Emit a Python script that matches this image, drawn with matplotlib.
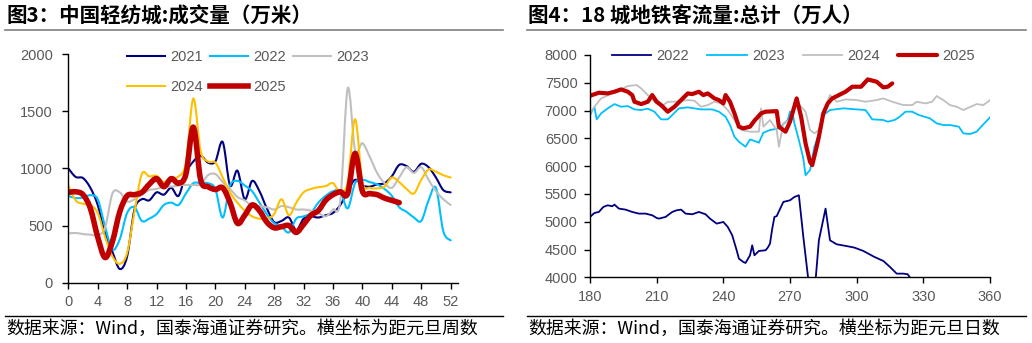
import numpy as np
import matplotlib.pyplot as plt
from matplotlib.lines import Line2D
from matplotlib.path import Path
from matplotlib.patches import PathPatch

plt.rcParams['font.family'] = ['Liberation Sans', 'DejaVu Sans']

CJK = ['Noto Sans CJK SC', 'DejaVu Sans']
TICK_COLOR = '#595959'

# ---- left panel: weekly turnover of the textile city (10k metres) ----
weeks = np.arange(53)
weeks_2025 = np.arange(46)
tx_2021 = [1000, 925, 915, 830, 680, 430, 270, 120, 230, 640, 730, 720, 790, 770,
           830, 760, 960, 1060, 1110, 1050, 1060, 1230, 850, 980, 730, 890, 800,
           650, 530, 540, 570, 460, 560, 580, 570, 590, 610, 680, 800, 900, 850,
           840, 860, 870, 930, 1030, 1020, 970, 1040, 1010, 920, 810, 790]
tx_2022 = [760, 740, 745, 765, 730, 490, 290, 380, 610, 660, 540, 560, 600, 680,
           700, 680, 780, 870, 870, 870, 820, 570, 850, 890, 850, 800, 700, 600,
           520, 490, 440, 560, 580, 610, 700, 760, 800, 800, 650, 870, 900, 880,
           860, 820, 760, 660, 620, 570, 540, 720, 830, 450, 370]
tx_2023 = [430, 435, 425, 420, 415, 480, 780, 790, 710, 730, 770, 810, 820, 840,
           840, 850, 855, 855, 860, 940, 950, 880, 820, 750, 720, 670, 670, 660,
           640, 670, 660, 640, 640, 630, 610, 580, 640, 720, 1700, 1160, 1220,
           1100, 960, 870, 830, 920, 1010, 960, 1010, 900, 800, 730, 680]
tx_2024 = [850, 720, 690, 680, 610, 400, 230, 165, 260, 620, 950, 930, 935, 880,
           915, 930, 1050, 1610, 1150, 1060, 1050, 920, 790, 700, 630, 580, 560,
           560, 600, 730, 590, 700, 790, 820, 835, 845, 870, 790, 880, 1430, 880,
           830, 825, 840, 920, 880, 820, 780, 900, 990, 970, 940, 920]
tx_2025 = [790, 795, 770, 650, 400, 220, 360, 620, 760, 770, 790, 860, 910, 840,
           910, 870, 950, 1360, 900, 840, 815, 830, 700, 520, 590, 680, 630, 530,
           480, 490, 500, 440, 510, 590, 630, 720, 770, 795, 780, 1130, 800, 780,
           770, 740, 720, 700]

# ---- right panel: metro ridership of 18 cities (10k trips) ----
day_2022 = [180, 182, 184, 186, 188, 190, 191, 193, 196, 199, 202, 205, 208, 210,
            211, 214, 217, 219, 221, 223, 226, 229, 232, 234, 237, 240, 242, 244,
            246, 247, 249, 250, 252, 253, 254, 256, 259, 260, 261, 262, 263, 264,
            267, 270, 272, 274, 276, 279, 281, 283, 286, 288, 291, 296, 299, 303,
            308, 312, 315, 318, 321, 323, 324]
val_2022 = [5086, 5158, 5176, 5266, 5296, 5278, 5308, 5236, 5218, 5176, 5146, 5146,
            5116, 5068, 5056, 5086, 5176, 5206, 5218, 5146, 5134, 5176, 5134, 5056,
            4966, 4996, 4906, 4756, 4486, 4336, 4276, 4258, 4396, 4576, 4396, 4474,
            4486, 4534, 4606, 4876, 5086, 5100, 5356, 5386, 5446, 5476, 4726, 3700,
            3700, 4666, 5236, 4666, 4594, 4558, 4534, 4474, 4366, 4294, 4186, 4066,
            4066, 4054, 3994]
day_2023 = [180, 181, 182, 183, 185, 188, 191, 194, 197, 200, 203, 206, 209, 212,
            215, 217, 220, 224, 230, 235, 238, 241, 243, 245, 247, 250, 252, 255,
            256, 258, 261, 265, 269, 270, 271, 272, 274, 276, 277, 279, 281, 283,
            285, 288, 294, 300, 304, 307, 312, 314, 317, 319, 322, 325, 328, 333,
            336, 339, 342, 346, 348, 351, 354, 356, 360]
val_2023 = [6920, 7000, 7060, 6842, 6950, 7040, 7117, 7069, 7081, 7021, 7010, 7034,
            6980, 6842, 6842, 6920, 7040, 7058, 7021, 7021, 6980, 6890, 6740, 6529,
            6439, 6349, 6481, 6439, 6421, 6601, 6650, 6680, 6830, 6980, 6980, 6770,
            6469, 6138, 5838, 5928, 6349, 6590, 6920, 7010, 7040, 7021, 7010, 6842,
            6830, 6800, 6830, 6878, 6980, 6980, 6920, 6860, 6770, 6740, 6740, 6710,
            6590, 6578, 6620, 6710, 6878]
day_2024 = [180, 182, 185, 190, 194, 197, 201, 203, 206, 209, 212, 215, 218, 224,
            227, 230, 233, 236, 239, 242, 245, 248, 252, 255, 256, 257, 258, 261,
            264, 265, 267, 270, 271, 273, 277, 279, 281, 283, 285, 288, 291, 295,
            300, 304, 309, 312, 316, 321, 325, 327, 331, 334, 336, 339, 342, 345,
            348, 352, 354, 357, 360]
val_2024 = [6950, 7069, 7219, 7309, 7381, 7441, 7459, 7399, 7279, 7159, 7069, 7159,
            7159, 7189, 7177, 7069, 7099, 7159, 7129, 7010, 6830, 6650, 6620, 6620,
            6620, 7040, 6710, 6830, 6650, 6349, 6770, 6830, 6950, 7159, 6980, 6650,
            6590, 6650, 6950, 7279, 7159, 7201, 7189, 7159, 7189, 7219, 7159, 7099,
            7099, 7159, 7129, 7159, 7261, 7189, 7099, 7069, 7010, 7081, 7117, 7099,
            7189]
day_2025 = [180, 184, 188, 191, 194, 197, 199, 200, 203, 206, 208, 210, 212, 215,
            218, 221, 224, 226, 229, 231, 233, 236, 238, 240, 241, 243, 245, 247,
            249, 252, 254, 257, 259, 264, 265, 268, 270, 273, 275, 277, 279, 280,
            282, 283, 285, 287, 289, 292, 295, 298, 302, 305, 309, 312, 314, 316]
val_2025 = [7267, 7321, 7309, 7339, 7381, 7339, 7279, 7159, 7117, 7159, 7279, 7159,
            7099, 6980, 7069, 7189, 7309, 7297, 7339, 7279, 7309, 7219, 7189, 7129,
            7279, 7159, 6950, 6710, 6680, 6710, 6818, 6950, 6980, 6990, 6710, 6620,
            6800, 7219, 6890, 6409, 6078, 6018, 6349, 6529, 6950, 7129, 7219, 7279,
            7339, 7429, 7429, 7561, 7519, 7417, 7429, 7489]

C_NAVY = '#000080'
C_SKY = '#00BFFF'
C_GRAY = '#BFBFBF'
C_GOLD = '#FFC000'
C_RED = '#C00000'

W, H = 1032, 343
fig = plt.figure(figsize=(W / 100, H / 100), dpi=100)


def fx(px):
    return px / W


def fy(py):
    return 1 - py / H


def smooth_line(ax, x, y, color, lw, label):
    """Draw a series as a Catmull-Rom style bezier curve through its points."""
    p = np.column_stack([x, y]).astype(float)
    ext = np.vstack([p[0], p, p[-1]])
    verts = [p[0]]
    codes = [Path.MOVETO]
    for i in range(1, len(ext) - 2):
        p0, p1, p2, p3 = ext[i - 1], ext[i], ext[i + 1], ext[i + 2]
        verts += [p1 + (p2 - p0) / 6, p2 - (p3 - p1) / 6, p2]
        codes += [Path.CURVE4] * 3
    ax.add_patch(PathPatch(Path(verts, codes), fill=False, edgecolor=color,
                           lw=lw, joinstyle='round', capstyle='round'))
    return Line2D([], [], color=color, lw=lw, label=label)


def style_axes(ax, ypad):
    for side in ('top', 'right'):
        ax.spines[side].set_visible(False)
    for side in ('left', 'bottom'):
        ax.spines[side].set_color('black')
        ax.spines[side].set_linewidth(1.0)
    ax.tick_params(axis='both', direction='out', length=4, width=1,
                   colors='black', labelcolor=TICK_COLOR, labelsize=10.5)
    ax.tick_params(axis='y', pad=ypad)
    ax.tick_params(axis='x', pad=5)
    ax.set_facecolor('none')


# left panel
ax1 = fig.add_axes([fx(68.3), fy(282.7), fx(458 - 68.3), (282.7 - 54) / H])
h21 = smooth_line(ax1, weeks, tx_2021, C_NAVY, 1.5, '2021')
h22 = smooth_line(ax1, weeks, tx_2022, C_SKY, 1.5, '2022')
h23 = smooth_line(ax1, weeks, tx_2023, C_GRAY, 1.5, '2023')
h24 = smooth_line(ax1, weeks, tx_2024, C_GOLD, 1.5, '2024')
h25 = smooth_line(ax1, weeks_2025, tx_2025, C_RED, 4, '2025')
ax1.set_xlim(0, 53)
ax1.set_ylim(0, 2000)
ax1.set_xticks(np.arange(0, 53, 4))
ax1.set_yticks(np.arange(0, 2001, 500))
style_axes(ax1, 7)
# legend fills column by column, so order the handles to read row by row
ax1.legend(handles=[h21, h24, h22, h25, h23], loc='upper left',
           bbox_to_anchor=(fx(127), fy(50)),
           bbox_transform=fig.transFigure, ncol=3, frameon=False,
           fontsize=10.5, labelcolor=TICK_COLOR, handlelength=2.6,
           handletextpad=0.35, columnspacing=0.5, labelspacing=1.1,
           borderpad=0, borderaxespad=0)

# right panel
ax2 = fig.add_axes([fx(590), fy(277.3), fx(990 - 590), (277.3 - 55) / H])
ax2.plot(day_2022, val_2022, color=C_NAVY, lw=1.3, label='2022')
ax2.plot(day_2023, val_2023, color=C_SKY, lw=1.3, label='2023')
ax2.plot(day_2024, val_2024, color=C_GRAY, lw=1.3, label='2024')
ax2.plot(day_2025, val_2025, color=C_RED, lw=3, label='2025',
         solid_joinstyle='round', solid_capstyle='round')
ax2.set_xlim(180, 360)
ax2.set_ylim(4000, 8000)
ax2.set_xticks(np.arange(180, 361, 30))
ax2.set_yticks(np.arange(4000, 8001, 500))
style_axes(ax2, 5)
ax2.legend(loc='upper left', bbox_to_anchor=(fx(612), fy(49)),
           bbox_transform=fig.transFigure, ncol=4, frameon=False,
           fontsize=10.5, labelcolor=TICK_COLOR, handlelength=2.7,
           handletextpad=0.35, columnspacing=1.25,
           borderpad=0, borderaxespad=0)

# titles, rules and source notes
titles = ['图3：中国轻纺城:成交量（万米）', '图4：18 城地铁客流量:总计（万人）']
notes = ['数据来源：Wind，国泰海通证券研究。横坐标为距元旦周数',
         '数据来源：Wind，国泰海通证券研究。横坐标为距元旦日数']
for x0, x1, title, note in [(5, 503, titles[0], notes[0]),
                            (527, 1026, titles[1], notes[1])]:
    fig.text(fx(x0 + 1), fy(16.5), title, family=CJK, fontsize=14.75,
             fontweight='bold', color='black', va='center', ha='left')
    fig.add_artist(Line2D([fx(x0), fx(x1)], [fy(29.5), fy(29.5)],
                          color='#7F7F7F', lw=1.2))
    fig.add_artist(Line2D([fx(x0), fx(x1)], [fy(315.7), fy(315.7)],
                          color='black', lw=1.0))
    fig.text(fx(x0 + 1), fy(329), note, family=CJK, fontsize=12.9,
             color='black', va='center', ha='left')

fig.savefig('out.png', dpi=100)
